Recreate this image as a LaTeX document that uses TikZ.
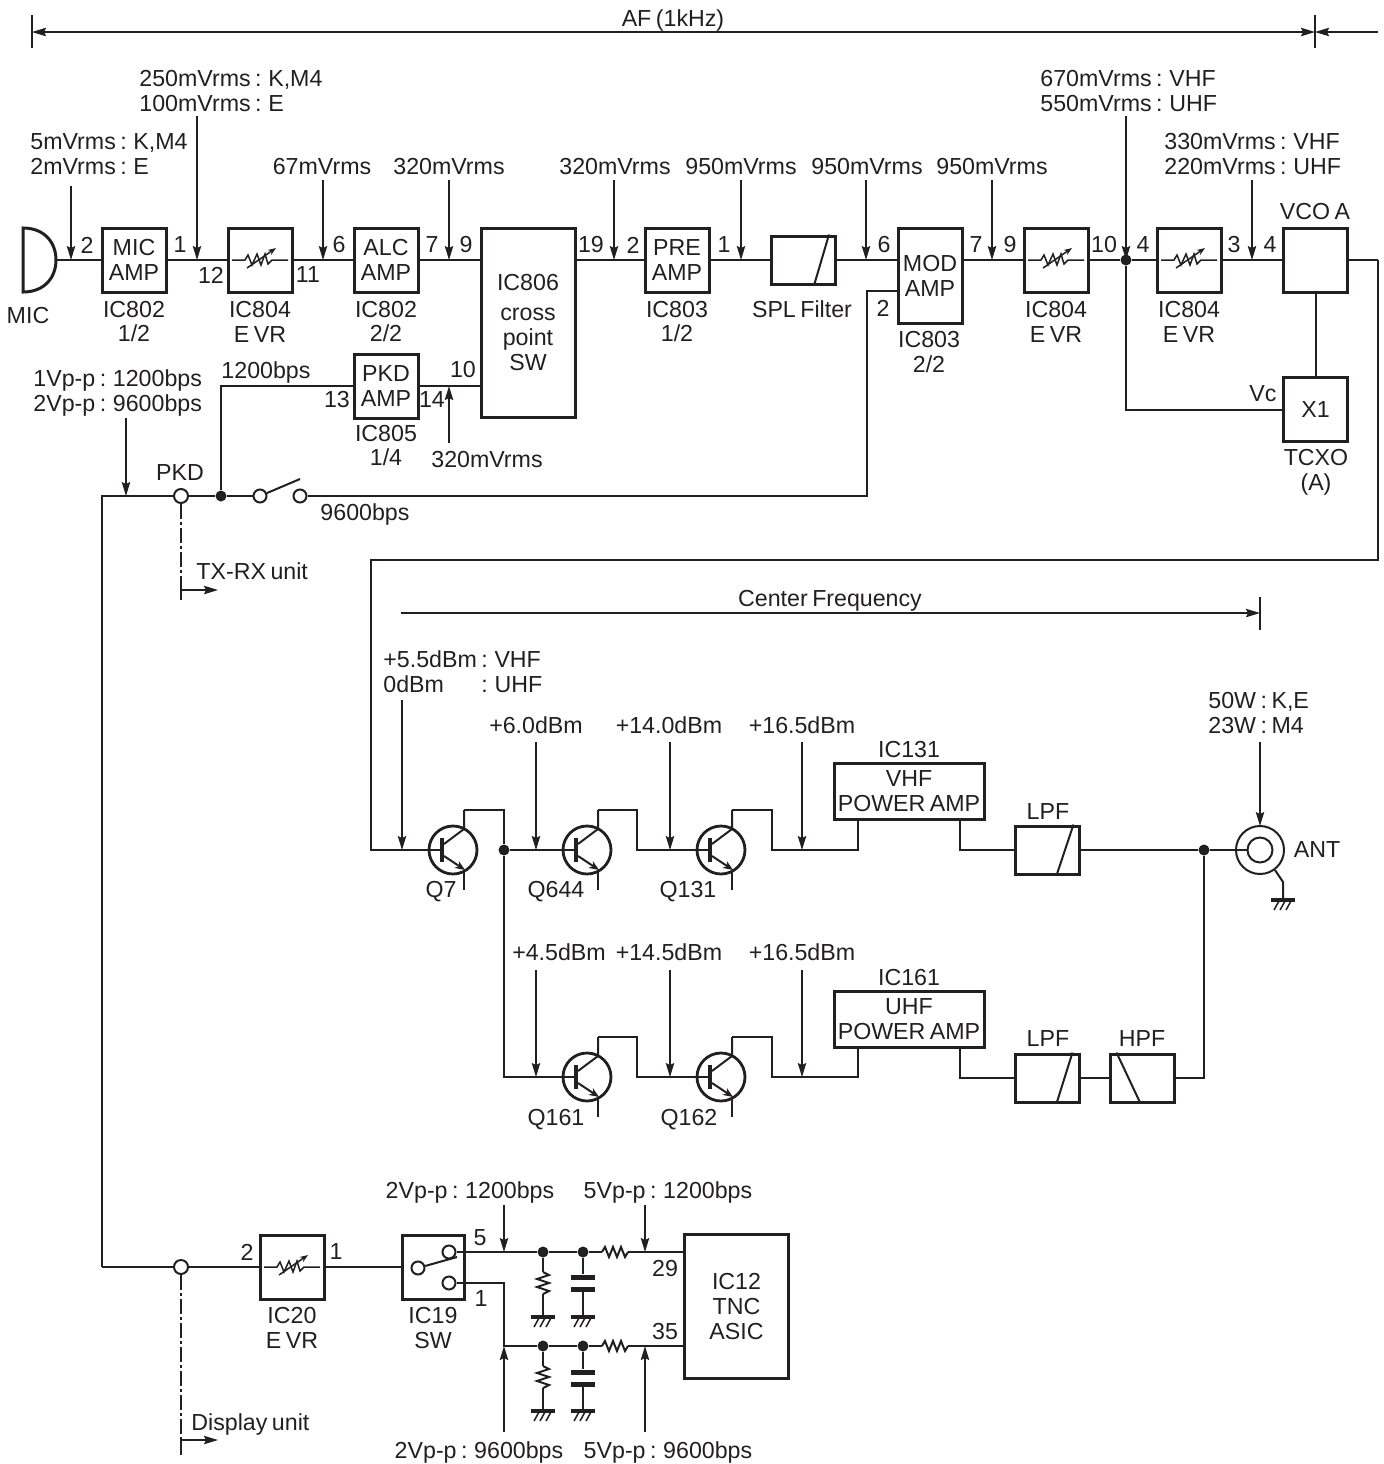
\documentclass[tikz,border=0pt]{standalone}
\usepackage{fontspec}
\setmainfont[WordSpace=0.7]{Liberation Sans}
\usetikzlibrary{arrows.meta,calc}
\definecolor{ink}{HTML}{231F20}

% variable resistor box
\newcommand{\evr}[3]{
\node (#1) [block] at (#2,#3) {};
\draw [thinw,shift={(#2,#3)}] (-28,0) -- (-15,0) -- (-12,-5) -- (-8,5) -- (-3,-6) -- (1,5) -- (5,-6) -- (8,4) -- (12,0) -- (28,0);
\draw [thinw,-{Stealth[length=4pt,width=3pt]},shift={(#2,#3)}] (-13,8) -- (16,-12);
}
% transistor, collector and base ends are named
\newcommand{\npn}[3]{
\node (#1) [qbody] at (#2,#3) {};
\coordinate (#1-b) at (#2-11,#3);
\coordinate (#1-c) at (#2+11,#3-40);
\draw [qbar,shift={(#2,#3)}] (-11,-12) -- (-11,12);
\draw [wire,shift={(#2,#3)}] (-9,-6) -- (11,-21) -- (11,-40);
\draw [wire,-{Stealth[length=5pt,width=4pt]},shift={(#2,#3)}] (-9,6) -- (12,20);
\draw [wire,shift={(#2,#3)}] (11,22) -- (11,40);
}
\newcommand{\gnd}[3]{
\coordinate (#1) at (#2,#3);
\draw [line width=2.2pt,shift={(#2,#3)}] (-12,0) -- (12,0);
\draw [thinw,shift={(#2,#3)}] (-4,1) -- (-9,10);
\draw [thinw,shift={(#2,#3)}] (2,1) -- (-3,10);
\draw [thinw,shift={(#2,#3)}] (8,1) -- (3,10);
}
\newcommand{\hres}[3]{
\node (#1) [minimum width=13pt,minimum height=6pt] at (#2,#3) {};
\draw [wire,shift={(#2,#3)}] (-13,0) -- (-10,-5) -- (-6,5) -- (-2,-5) -- (2,5) -- (6,-5) -- (10,5) -- (13,0);
}
\newcommand{\vres}[3]{
\node (#1) [minimum width=6pt,minimum height=11pt] at (#2,#3) {};
\draw [wire,shift={(#2,#3)}] (0,-11) -- (6,-8) -- (-6,-4) -- (6,0) -- (-6,4) -- (6,8) -- (0,11);
}
\newcommand{\capsym}[3]{
\node (#1) [minimum width=12pt,minimum height=8.5pt] at (#2,#3) {};
\draw [line width=2.5pt,shift={(#2,#3)}] (-12,-6) -- (12,-6);
\draw [line width=2.5pt,shift={(#2,#3)}] (-12,6) -- (12,6);
}
% level arrow from a free end to the wire
\newcommand{\probe}[4]{
\coordinate (#1a) at (#2,#3);
\coordinate (#1b) at (#2,#4);
\draw [tag] (#1a) -- (#1b);
}

\begin{document}
\begin{tikzpicture}[x=0.5pt,y=-0.5pt,color=ink]
\tikzstyle{every node}+=[inner sep=0pt,font=\fontsize{11.6}{12.5}\selectfont,align=center]
\tikzstyle{wire}=[line width=1pt]
\tikzstyle{thinw}=[line width=.75pt]
\tikzstyle{tag}=[line width=.75pt,-{Stealth[length=7pt,width=4.2pt,inset=1pt]}]
\tikzstyle{block}=[draw,line width=1.5pt,minimum width=32pt,minimum height=32pt]
\tikzstyle{filt}=[draw,line width=1.5pt,minimum width=32pt,minimum height=24pt]
\tikzstyle{pabox}=[draw,line width=1.5pt,minimum width=75pt,minimum height=28pt]
\tikzstyle{qbody}=[draw,circle,line width=1.4pt,minimum size=24pt]
\tikzstyle{qbar}=[line width=2.2pt]
\tikzstyle{dot}=[circle,fill=ink,minimum size=5.5pt]
\tikzstyle{term}=[circle,draw,line width=1pt,fill=white,minimum size=7pt]
\tikzstyle{unitline}=[line width=.8pt,dash pattern=on 7.5pt off 1.5pt on 1.5pt off 1.5pt]
\useasboundingbox (0,0) rectangle (1384,1464);

% top span
\coordinate (afl) at (32,32);
\coordinate (afr) at (1315,32);
\coordinate (afe) at (1378,32);
\draw [thinw] (32,15) -- (32,48);
\draw [thinw] (1315,15) -- (1315,48);
\draw [tag,{Stealth[length=7pt,width=4.2pt,inset=1pt]}-{Stealth[length=7pt,width=4.2pt,inset=1pt]}] (afl) -- (afr);
\draw [tag] (afe) -- (afr);
\node (af) at (673,20) {AF (1kHz)};

% microphone
\coordinate (mic) at (56,260);
\draw [line width=1.5pt] (23,228) .. controls (45,228) and (56,243) .. (mic) .. controls (56,277) and (45,292) .. (23,292) -- cycle;
\node (micl) at (28,316) {MIC};

% audio line
\node (ampmic) [block] at (134,260) {MIC\\AMP};
\evr{vr1}{260}{260}
\node (ampalc) [block] at (386,260) {ALC\\AMP};
\node (ampkd) [block] at (386,386) {PKD\\AMP};
\node (ic806) [draw,line width=1.5pt,minimum width=47pt,minimum height=94.5pt] at (528,322.5) {IC806\\[2.5pt]cross\\point\\SW};
\node (amppre) [block] at (677,260) {PRE\\AMP};
\node (spl) [filt] at (803.5,260) {};
\node (modamp) [draw,line width=1.5pt,minimum width=32pt,minimum height=47.5pt] at (930,275.5) {MOD\\AMP};
\evr{vr2}{1056}{260}
\evr{vr3}{1189}{260}
\node (vco) [block] at (1315.5,260) {};
\node (tcxo) [block] at (1315.5,409.5) {X1};
\draw [wire] (spl.north east) ++(-8,0) -- ($(spl.south east)+(-23,0)$);
\node (j10) [dot] at (1126,260) {};

\draw [wire] (mic) -- (ampmic);
\draw [wire] (ampmic) -- (vr1);
\draw [wire] (vr1) -- (ampalc);
\draw [wire] (ampalc) -- (ampalc -| ic806.west);
\draw [wire] (ampalc -| ic806.east) -- (amppre);
\draw [wire] (amppre) -- (spl);
\draw [wire] (spl) -- (spl -| modamp.west);
\draw [wire] (spl -| modamp.east) -- (vr2);
\draw [wire] (vr2) -- (j10);
\draw [wire] (j10) -- (vr3);
\draw [wire] (vr3) -- (vco);
\draw [wire] (vco) -- (tcxo);
\draw [wire] (j10) |- (tcxo);
\draw [wire] (ampkd) -- (ampkd -| ic806.west);

% pin numbers
\node (n1) at (87,245) {2};
\node (n2) at (180,245) {1};
\node (n3) at (211,275) {12};
\node (n4) at (308,275) {11};
\node (n5) at (339,245) {6};
\node (n6) at (432,245) {7};
\node (n7) at (466,245) {9};
\node (n8) at (591,245) {19};
\node (n9) at (633,245) {2};
\node (n10) at (724,245) {1};
\node (n11) at (884,245) {6};
\node (n12) at (976,245) {7};
\node (n13) at (1010,245) {9};
\node (n14) at (1104,245) {10};
\node (n15) at (1143,245) {4};
\node (n16) at (1234,245) {3};
\node (n17) at (1270,245) {4};
\node (n18) at (883,308) {2};
\node (n19) at (463,370) {10};
\node (n20) at (432,400) {14};
\node (n21) at (337,400) {13};
\node (vc) at (1263,394) {Vc};

% part names
\node (c1) at (134,321.5) {IC802\\1/2};
\node (c2) at (260,321.5) {IC804\\E VR};
\node (c3) at (386,321.5) {IC802\\2/2};
\node (c4) at (386,445.5) {IC805\\1/4};
\node (c5) at (677,321.5) {IC803\\1/2};
\node (c6) at (802,309) {SPL Filter};
\node (c7) at (929,352.5) {IC803\\2/2};
\node (c8) at (1056,321.5) {IC804\\E VR};
\node (c9) at (1189,321.5) {IC804\\E VR};
\node (c10) at (1315,212) {VCO A};
\node (c11) at (1316,472) {TCXO\\(A)};

% levels
\probe{p1}{71}{186}{260}
\node (l1) [anchor=west,align=left] at (30,154.5) {5mVrms : K,M4\\2mVrms : E};
\probe{p2}{197}{116}{260}
\node (l2) [anchor=west,align=left] at (139,91.5) {250mVrms : K,M4\\100mVrms : E};
\probe{p3}{323}{180}{260}
\node (l3) at (322,167) {67mVrms};
\probe{p4}{449}{180}{260}
\node (l4) at (449,167) {320mVrms};
\probe{p5}{614}{180}{260}
\node (l5) at (615,167) {320mVrms};
\probe{p6}{741}{180}{260}
\node (l6) at (741,167) {950mVrms};
\probe{p7}{866}{180}{260}
\node (l7) at (867,167) {950mVrms};
\probe{p8}{992}{180}{260}
\node (l8) at (992,167) {950mVrms};
\probe{p9}{1126}{116}{260}
\node (l9) [anchor=west,align=left] at (1040,91.5) {670mVrms : VHF\\550mVrms : UHF};
\probe{p10}{1252}{180}{260}
\node (l10) [anchor=west,align=left] at (1164,154.5) {330mVrms : VHF\\220mVrms : UHF};
\probe{p11}{449}{443}{386}
\node (l11) at (487,460) {320mVrms};
\node (l12) at (266,372) {1200bps};
\node (l13) [anchor=west,align=left] at (33,393) {1Vp-p : 1200bps\\2Vp-p : 9600bps};
\probe{p12}{126}{418}{496}

% PKD input
\node (tpkd) [term] at (181,496) {};
\node (jpkd) [dot] at (221,496) {};
\node (sw1a) [term,minimum size=6.5pt] at (260,496) {};
\node (sw1b) [term,minimum size=6.5pt] at (300,496) {};
\coordinate (sw1t) at (300,479);
\coordinate (md1) at (867,496);
\coordinate (md2) at (867,291);
\coordinate (lc1) at (102,496);
\coordinate (lc2) at (102,1267);
\node (pkdl) at (180,473) {PKD};
\node (l14) at (365,514) {9600bps};
\draw [wire] (ampkd) -| (jpkd);
\draw [wire] (tpkd) -- (jpkd);
\draw [wire] (jpkd) -- (sw1a);
\draw [wire] (sw1a) -- (sw1t);
\draw [wire] (sw1b) -- (md1) -- (md2) -- (md2 -| modamp.west);
\draw [wire] (tpkd) -- (lc1) -- (lc2);

\coordinate (txa) at (181,590);
\coordinate (txb) at (181,600);
\coordinate (txc) at (218,590);
\draw [unitline] (tpkd) -- (txa);
\draw [thinw] (txa) -- (txb);
\draw [tag] (txa) -- (txc);
\node (txl) [anchor=west] at (196,571) {TX-RX unit};

% RF line
\coordinate (rt1) at (1378,260);
\coordinate (rt2) at (1378,560);
\coordinate (rt3) at (371,560);
\coordinate (rt4) at (371,850);
\coordinate (cfa) at (401,613);
\coordinate (cfb) at (1260,613);
\draw [tag] (cfa) -- (cfb);
\draw [thinw] (1260,597) -- (1260,630);
\node (cfl) at (830,601) {Center Frequency};

\npn{q7}{453}{850}
\npn{q644}{587}{850}
\npn{q131}{721}{850}
\npn{q161}{587}{1077}
\npn{q162}{721}{1077}
\node (j1) [dot] at (504,850) {};
\coordinate (j1d) at (504,1077);
\node (pa1) [pabox] at (909,791) {VHF\\POWER AMP};
\node (pa2) [pabox] at (909,1019) {UHF\\POWER AMP};
\node (lpf1) [filt] at (1047,850) {};
\node (lpf2) [filt] at (1047,1078) {};
\node (hpf) [filt] at (1142,1078) {};
\node (j2) [dot] at (1204,850) {};
\node (ant) [circle,draw,line width=1pt,minimum size=24pt] at (1260,850) {};
\node (anti) [circle,draw,line width=1pt,minimum size=12.5pt] at (1260,850) {};
\gnd{g0}{1283}{900}
\coordinate (antg) at (1283,882);
\draw [wire] (1275,870) -- (antg) -- (g0);

\draw [wire] (lpf1.north east) ++(-7,0) -- ($(lpf1.south east)+(-24,0)$);
\draw [wire] (lpf2.north east) ++(-8,0) -- ($(lpf2.south east)+(-24,0)$);
\draw [wire] (hpf.north west) ++(8,0) -- ($(hpf.south west)+(32,0)$);

\draw [wire] (rt1) -- (rt2) -- (rt3) -- (rt4) -- (q7-b);
\draw [wire] (vco) -- (rt1);
\draw [wire] (q7-c) -| (j1);
\draw [wire] (j1) -- (q644-b);
\draw [wire] (q644-c) -- ++(39,0) |- (q131-b);
\draw [wire] (q131-c) -- ++(40,0) |- (858,850) -- (858,850 |- pa1.south);
\draw [wire] (960,819) |- (lpf1);
\draw [wire] (lpf1) -- (j2);
\draw [wire] (j2) -- (anti);
\draw [wire] (j1) -- (j1d) -- (q161-b);
\draw [wire] (q161-c) -- ++(39,0) |- (q162-b);
\draw [wire] (q162-c) -- ++(40,0) |- (858,1077) -- (858,1077 |- pa2.south);
\draw [wire] (960,1047) |- (lpf2);
\draw [wire] (lpf2) -- (hpf);
\draw [wire] (hpf) -| (j2);

\node (q1l) at (441,892) {Q7};
\node (q2l) at (556,892) {Q644};
\node (q3l) at (688,892) {Q131};
\node (q4l) at (556,1120) {Q161};
\node (q5l) at (689,1120) {Q162};
\node (ic1l) at (909,749) {IC131};
\node (ic2l) at (909,977) {IC161};
\node (f1l) at (1048,812) {LPF};
\node (f2l) at (1048,1039) {LPF};
\node (f3l) at (1142,1039) {HPF};
\node (antl) at (1317,850) {ANT};

\probe{r1}{402}{700}{850}
\node (m1) [anchor=west,align=left] at (383,671.5) {+5.5dBm : VHF\\0dBm\hphantom{+5.} : UHF};
\probe{r2}{536}{742}{850}
\node (m2) at (536,725) {+6.0dBm};
\probe{r3}{670}{742}{850}
\node (m3) at (669,725) {+14.0dBm};
\probe{r4}{802}{742}{850}
\node (m4) at (802,725) {+16.5dBm};
\probe{r5}{1260}{742}{826}
\node (m5) [anchor=west,align=left] at (1208,713) {50W : K,E\\23W : M4};
\probe{r6}{536}{970}{1077}
\node (m6) at (559,952) {+4.5dBm};
\probe{r7}{670}{970}{1077}
\node (m7) at (669,952) {+14.5dBm};
\probe{r8}{802}{970}{1077}
\node (m8) at (802,952) {+16.5dBm};

% TNC output
\node (tdisp) [term] at (181,1267) {};
\evr{vr4}{292}{1267}
\node (ic19) [block,minimum width=31pt] at (433,1267) {};
\node (sw2a) [term,minimum size=6.5pt] at (418,1268) {};
\node (sw2t) [term,minimum size=6.5pt] at (449,1252) {};
\node (sw2b) [term,minimum size=6.5pt] at (449,1283) {};
\coordinate (sw2e) at (457,1257);
\node (ic12) [draw,line width=1.5pt,minimum width=52pt,minimum height=72pt] at (736.5,1306.5) {IC12\\TNC\\ASIC};
\node (j3) [dot] at (543,1252) {};
\node (j4) [dot] at (583,1252) {};
\node (j5) [dot] at (543,1346) {};
\node (j6) [dot] at (583,1346) {};
\coordinate (cn1) at (504,1346);
\hres{rs1}{615}{1252}
\hres{rs2}{615}{1346}
\vres{rv1}{543}{1283}
\vres{rv2}{543}{1377}
\capsym{cp1}{583}{1283}
\capsym{cp2}{583}{1378}
\gnd{g1}{543}{1317}
\gnd{g2}{583}{1317}
\gnd{g3}{543}{1411}
\gnd{g4}{583}{1411}

\draw [wire] (lc2) -- (tdisp);
\draw [wire] (tdisp) -- (vr4);
\draw [wire] (vr4) -- (ic19);
\draw [wire] (sw2a) -- (sw2e);
\draw [wire] (sw2t) -- (j3);
\draw [wire] (j3) -- (j4);
\draw [wire] (j4) -- (rs1);
\draw [wire] (rs1) -- (rs1 -| ic12.west);
\draw [wire] (sw2b) -| (cn1) -- (j5);
\draw [wire] (j5) -- (j6);
\draw [wire] (j6) -- (rs2);
\draw [wire] (rs2) -- (rs2 -| ic12.west);
\draw [wire] (j3) -- (rv1) -- (g1);
\draw [wire] (j5) -- (rv2) -- (g3);
\draw [wire] (j4) -- (cp1) -- (g2);
\draw [wire] (j6) -- (cp2) -- (g4);

\coordinate (dsa) at (181,1440);
\coordinate (dsb) at (181,1455);
\coordinate (dsc) at (218,1440);
\draw [unitline] (tdisp) -- (dsa);
\draw [thinw] (dsa) -- (dsb);
\draw [tag] (dsa) -- (dsc);
\node (dsl) [anchor=west] at (191,1424) {Display unit};

\node (k1) at (247,1252) {2};
\node (k2) at (336,1252) {1};
\node (k3) at (480,1238) {5};
\node (k4) at (481,1299) {1};
\node (k5) at (665,1268) {29};
\node (k6) at (665,1331) {35};
\node (e1) at (292,1327.5) {IC20\\E VR};
\node (e2) at (433,1327.5) {IC19\\SW};

\probe{s1}{504}{1205}{1252}
\node (t1) at (470,1192) {2Vp-p : 1200bps};
\probe{s2}{645}{1205}{1252}
\node (t2) at (668,1192) {5Vp-p : 1200bps};
\probe{s3}{504}{1432}{1346}
\node (t3) at (479,1452) {2Vp-p : 9600bps};
\probe{s4}{645}{1432}{1346}
\node (t4) at (668,1452) {5Vp-p : 9600bps};
\end{tikzpicture}
\end{document}
